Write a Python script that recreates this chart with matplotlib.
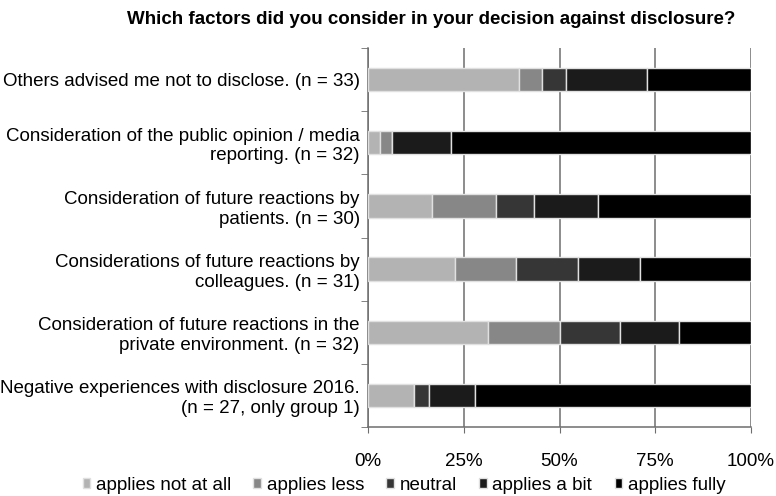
import numpy as np
import matplotlib
matplotlib.use('Agg')
import matplotlib.pyplot as plt

plt.rcParams['font.family'] = ['Liberation Sans', 'DejaVu Sans']

# categories from top to bottom
categories = [
    'Others advised me not to disclose. (n = 33)',
    'Consideration of the public opinion / media\nreporting. (n = 32)',
    'Consideration of future reactions by\npatients. (n = 30)',
    'Considerations of future reactions by\ncolleagues. (n = 31)',
    'Consideration of future reactions in the\nprivate environment. (n = 32)',
    'Negative experiences with disclosure 2016.\n(n = 27, only group 1)',
]
series_names = ['applies not at all', 'applies less', 'neutral', 'applies a bit', 'applies fully']

# shares in percent
not_at_all = [39.4, 3.1, 16.7, 22.6, 31.3, 12.0]
less = [6.1, 3.1, 16.7, 16.1, 18.8, 0.0]
neutral = [6.1, 0.0, 10.0, 16.1, 15.6, 4.0]
a_bit = [21.2, 15.6, 16.7, 16.1, 15.6, 12.0]
fully = [27.3, 78.1, 40.0, 29.0, 18.8, 72.0]

xticks = [0, 25, 50, 75, 100]
xtick_labels = ['0%', '25%', '50%', '75%', '100%']

colors = ['#b3b3b3', '#878787', '#363636', '#1b1b1b', '#000000']
fs = 13.5

fig = plt.figure(figsize=(7.76, 4.96), dpi=100)
ax = fig.add_axes([368 / 776, 1 - 427 / 496, (751 - 368) / 776, (427 - 48) / 496])

y = np.arange(len(categories))
left = np.zeros(len(categories))
for name, vals, c in zip(series_names, [not_at_all, less, neutral, a_bit, fully], colors):
    vals = np.array(vals)
    ax.barh(y, vals, left=left, height=0.37, color=c, edgecolor='#e0e0e0',
            linewidth=1.0, label=name, zorder=3)
    left += vals

ax.set_xlim(0, 100)
ax.set_ylim(len(categories) - 0.5, -0.5)

# vertical gridlines
ax.set_xticks(xticks)
ax.set_xticklabels(xtick_labels, fontsize=fs)
ax.grid(axis='x', color='#6e6e6e', linewidth=1.1, zorder=0)
ax.tick_params(axis='x', length=4, color='#6e6e6e', pad=15)

# category labels, ticks between categories
ax.set_yticks(y)
ax.set_yticklabels(categories, fontsize=fs, multialignment='right')
ax.tick_params(axis='y', length=0, pad=6)
ax.set_yticks(np.arange(-0.5, len(categories), 1.0), minor=True)
ax.tick_params(axis='y', which='minor', length=5, color='#6e6e6e')

for s in ['top', 'right']:
    ax.spines[s].set_visible(False)
for s in ['left', 'bottom']:
    ax.spines[s].set_color('#6e6e6e')
    ax.spines[s].set_linewidth(1.1)

fig.text(431 / 776, 1 - 20 / 496, 'Which factors did you consider in your decision against disclosure?',
         ha='center', va='center', fontsize=fs, fontweight='bold')

fig.legend(loc='center', bbox_to_anchor=(404 / 776, 1 - 485 / 496), ncol=5, frameon=False,
           fontsize=fs, handlelength=0.4, handleheight=0.4, handletextpad=0.3,
           columnspacing=1.2)

fig.savefig('out.png', dpi=100)
